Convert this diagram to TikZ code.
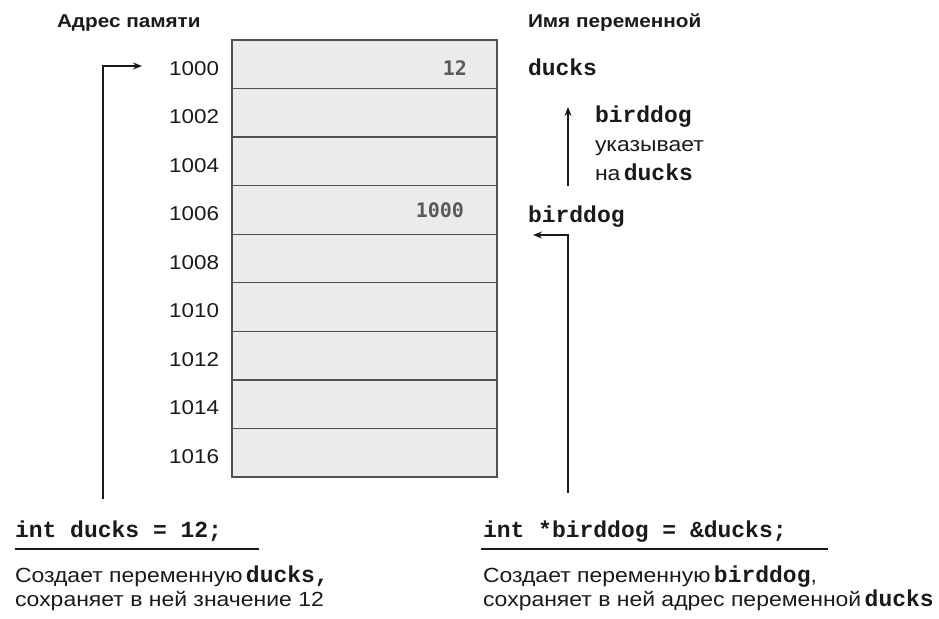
\documentclass[tikz,border=0pt]{standalone}
\usepackage{fontspec}
\setmainfont{Liberation Sans}[FakeStretch=1.12]
\newfontfamily\codefont{Liberation Mono}
\newfontfamily\valfont{DejaVu Sans Mono}
\usetikzlibrary{arrows.meta}

\definecolor{ink}{HTML}{1A1A1A}
\definecolor{cellfill}{HTML}{EBEBEB}
\definecolor{cellline}{HTML}{505050}
\definecolor{valgray}{HTML}{5A5A5A}

% inline bold monospace identifier
\newcommand{\vname}[1]{{\codefont\bfseries\fontsize{23}{25}\selectfont #1}}

\tikzset{
  every node/.style={inner sep=0pt, outer sep=0pt, text=ink},
  body/.style={font=\fontsize{20.5}{24}\selectfont},
  hdr/.style={font=\bfseries\fontsize{18.5}{24}\selectfont},
  addr/.style={font=\fontsize{20}{24}\selectfont, anchor=base east},
  val/.style={font=\valfont\bfseries\fontsize{20}{24}\selectfont, text=valgray, anchor=base east},
  code/.style={font=\codefont\bfseries\fontsize{23}{25}\selectfont},
  cell/.style={draw=cellline, line width=1.3pt, fill=cellfill,
               minimum width=265pt, minimum height=48.55pt, anchor=north west},
  arr/.style={draw=ink, line width=1.6pt, -{Stealth[length=9pt,width=7pt]}},
  uline/.style={draw=ink, line width=1.8pt},
}

\begin{document}
\begin{tikzpicture}[x=1pt, y=-1pt]
\useasboundingbox (0,0) rectangle (939,618);

% column headings
\node[hdr, anchor=base west] (hAddr) at (57,28) {Адрес памяти};
\node[hdr, anchor=base west] (hName) at (528,28) {Имя переменной};

% memory cells
\foreach \i in {0,...,8}
  \node[cell] (c\i) at (232,{40+\i*48.55}) {};

% addresses
\foreach \i/\a in {0/1000,1/1002,2/1004,3/1006,4/1008,5/1010,6/1012,7/1014,8/1016}
  \node[addr] (a\i) at (219,{75+\i*48.5}) {\a};

% stored values
\node[val] (v0) at (467,75) {12};
\node[val] (v3) at (464,217) {1000};

% variable names
\node[code, anchor=base west] (nDucks) at (528,75) {ducks};
\node[code, anchor=base west] (nBird) at (528,222) {birddog};

% pointer note
\node[code, anchor=base west] (note1) at (595,122) {birddog};
\node[body, anchor=base west] (note2) at (595,151) {указывает};
\node[body, anchor=base west] (note3) at (595,180) {на\,\vname{ducks}};
\coordinate (upS) at (568,186);
\coordinate (upE) at (568,107);
\draw[arr] (upS) -- (upE);

% declaration of ducks
\node[code, anchor=base west] (codeL) at (15,537) {int ducks = 12;};
\coordinate (ulL1) at (15,549);
\coordinate (ulL2) at (259,549);
\draw[uline] (ulL1) -- (ulL2);
\node[body, anchor=base west] (descL1) at (15,582) {Создает переменную\,\vname{ducks,}};
\node[body, anchor=base west] (descL2) at (15,606) {сохраняет в ней значение 12};

% declaration of birddog
\node[code, anchor=base west] (codeR) at (483,537) {int *birddog = \&ducks;};
\coordinate (ulR1) at (481,549);
\coordinate (ulR2) at (828,549);
\draw[uline] (ulR1) -- (ulR2);
\node[body, anchor=base west] (descR1) at (483,582) {Создает переменную\,\vname{birddog},};
\node[body, anchor=base west] (descR2) at (483,606) {сохраняет в ней адрес переменной\,\vname{ducks}};

% connectors from the declarations
\coordinate (lStart) at (103,499);
\coordinate (lTip) at (142,66);
\draw[arr] (lStart) |- (lTip);
\coordinate (rStart) at (568,493);
\coordinate (rTip) at (533,235);
\draw[arr] (rStart) |- (rTip);
\end{tikzpicture}
\end{document}
